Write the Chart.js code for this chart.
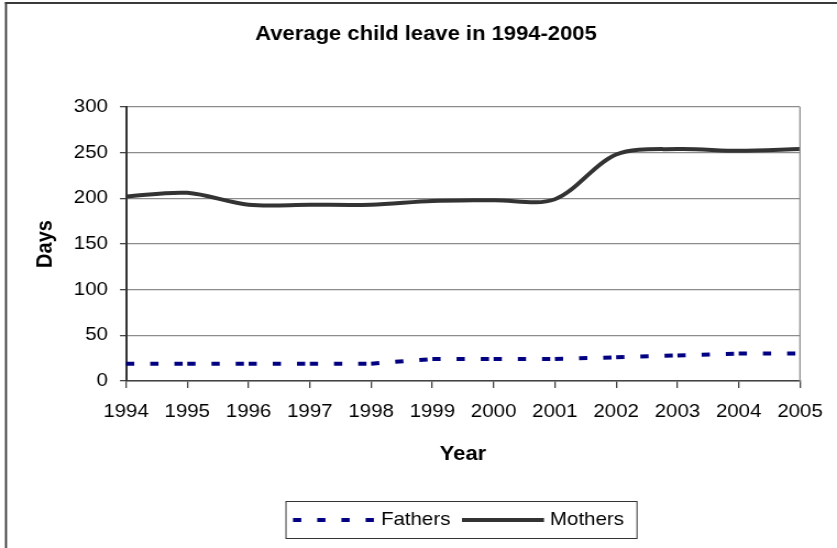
<!DOCTYPE html>
<html>
<head>
<meta charset="utf-8">
<script src="https://cdn.jsdelivr.net/npm/chart.js@4.4.1/dist/chart.umd.min.js"></script>
<style>
  html, body { margin: 0; padding: 0; background: #fff; overflow: hidden; }
  #c { position: absolute; left: 0; top: 0; }
</style>
</head>
<body>
<canvas id="c" width="761" height="548" style="width:837px;height:548px"></canvas>
<script>
// the original picture is a bit wider than tall, so draw narrow and stretch
const SX = 837 / 761;

const years = ['1994', '1995', '1996', '1997', '1998', '1999',
               '2000', '2001', '2002', '2003', '2004', '2005'];
const fathers = [19, 19, 19, 19, 19, 24, 24, 24, 26, 28, 30, 30];
const mothers = [202, 206, 193, 193, 193, 197, 198, 199, 248, 254, 252, 254];
const dayTicks = [0, 50, 100, 150, 200, 250, 300];

const FONT = 'Arial, "Liberation Sans", sans-serif';

// frame lines, title and the excel-like legend box
const extras = {
  id: 'extras',
  beforeDraw(chart) {
    const ctx = chart.ctx;
    ctx.save();
    ctx.fillStyle = '#3a3a3a';
    ctx.fillRect(5 / SX, 2, 2 / SX, 548);
    ctx.fillRect(5 / SX, 2, 761, 2);
    ctx.restore();
  },
  afterDraw(chart) {
    const ctx = chart.ctx;
    const a = chart.chartArea;
    ctx.save();
    // right border of plot area
    ctx.strokeStyle = '#8c8c8c';
    ctx.lineWidth = 1.3;
    ctx.beginPath();
    ctx.moveTo(a.right, a.top);
    ctx.lineTo(a.right, a.bottom);
    ctx.stroke();

    // title
    ctx.fillStyle = '#000';
    ctx.font = 'bold 20px ' + FONT;
    ctx.textAlign = 'center';
    ctx.textBaseline = 'alphabetic';
    ctx.fillText('Average child leave in 1994-2005', 426 / SX, 39.5);

    // legend
    const bx = 286 / SX, bw = (637 - 286) / SX, by = 501, bh = 37;
    ctx.strokeStyle = '#333';
    ctx.lineWidth = 1;
    ctx.strokeRect(bx, by + 0.5, bw, bh);
    const cy = 520;
    const items = [
      { ds: chart.data.datasets[0], x0: 293, x1: 374, tx: 381 },
      { ds: chart.data.datasets[1], x0: 462, x1: 544, tx: 550 }
    ];
    ctx.font = '18.6px ' + FONT;
    ctx.textAlign = 'left';
    ctx.textBaseline = 'middle';
    items.forEach(it => {
      ctx.save();
      ctx.strokeStyle = it.ds.borderColor;
      ctx.lineWidth = it.ds.borderWidth;
      ctx.setLineDash(it.ds.borderDash || []);
      ctx.beginPath();
      ctx.moveTo(it.x0 / SX, cy);
      ctx.lineTo(it.x1 / SX, cy);
      ctx.stroke();
      ctx.restore();
      ctx.fillStyle = '#000';
      ctx.fillText(it.ds.label, it.tx / SX, cy);
    });
    ctx.restore();
  }
};

new Chart(document.getElementById('c'), {
  type: 'line',
  data: {
    labels: years,
    datasets: [
      {
        label: 'Fathers',
        data: fathers,
        borderColor: '#000080',
        borderWidth: 4,
        borderDash: [7.5, 14.5],
        borderCapStyle: 'butt',
        tension: 0,
        pointRadius: 0,
        // restart the dash at every point like excel does
        segment: { borderDashOffset: c => (c.p0DataIndex % 2) * 0.001 }
      },
      {
        label: 'Mothers',
        data: mothers,
        borderColor: '#333333',
        borderWidth: 4,
        tension: 0.32,
        pointRadius: 0
      }
    ]
  },
  options: {
    responsive: false,
    animation: false,
    devicePixelRatio: 1,
    layout: { padding: { left: 0, right: 35 / SX, top: 107, bottom: 40 } },
    plugins: {
      legend: { display: false },
      title: { display: false },
      tooltip: { enabled: false }
    },
    scales: {
      x: {
        offset: false,
        afterFit: s => { s.height = 548 - 40 - 381; },
        grid: {
          drawOnChartArea: false,
          tickLength: 7,
          tickColor: '#444',
          lineWidth: 1.3
        },
        border: { color: '#444', width: 1.5 },
        ticks: {
          color: '#000',
          font: { family: FONT, size: 18.6 },
          padding: 13,
          maxRotation: 0,
          autoSkip: false
        },
        title: {
          display: true,
          text: 'Year',
          color: '#000',
          font: { family: FONT, size: 20, weight: 'bold' },
          padding: { top: 0, bottom: 42 }
        }
      },
      y: {
        min: 0,
        max: 300,
        afterFit: s => { s.width = 126 / SX; },
        afterBuildTicks: s => { s.ticks = dayTicks.map(v => ({ value: v })); },
        grid: {
          color: '#8c8c8c',
          lineWidth: 1.3,
          tickLength: 6 / SX,
          tickColor: '#444'
        },
        border: { color: '#333', width: 2 },
        ticks: {
          color: '#000',
          font: { family: FONT, size: 18.6 },
          padding: 11
        },
        title: {
          display: true,
          text: 'Days',
          color: '#000',
          font: { family: FONT, size: 20, weight: 'bold' },
          padding: { top: 29, bottom: 0 }
        }
      }
    }
  },
  plugins: [extras]
});
</script>
</body>
</html>
